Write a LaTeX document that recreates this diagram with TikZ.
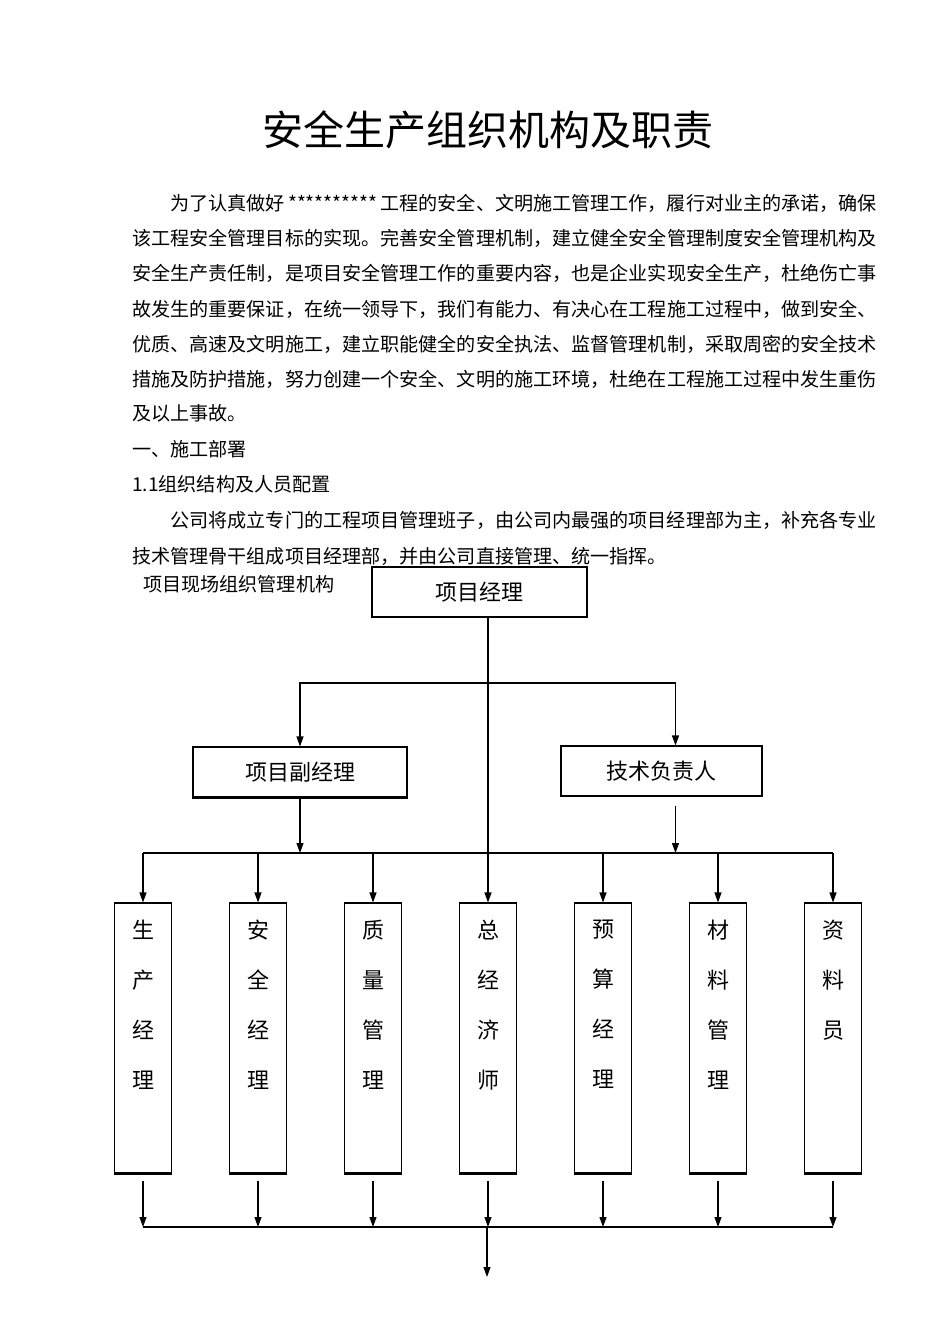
\documentclass[tikz,border=0pt]{standalone}
\usepackage{fontspec}
\setmainfont{Noto Sans CJK SC}
\usetikzlibrary{arrows.meta,positioning}

\tikzset{
  bodytext/.style={anchor=base west, inner sep=0pt, font=\fontsize{19.1}{23}\selectfont},
  chartbox/.style={draw, line width=1.1pt, inner sep=0pt, minimum height=50pt, font=\fontsize{22}{26}\selectfont},
  staffbox/.style={draw, line width=1.1pt, minimum width=57pt, minimum height=270pt, inner sep=0pt},
  stafftext/.style={anchor=north, inner sep=0pt, align=center, font=\fontsize{22}{50}\selectfont},
  link/.style={line width=1.1pt},
  arr/.style={line width=1.1pt, -{Triangle[length=10pt,width=7pt]}},
}

\begin{document}
\begin{tikzpicture}[x=1pt, y=-1pt]
	%%%%% START %%%%%
	\useasboundingbox (0,0) rectangle (950,1344);
	
	\node[font=\fontsize{41}{48}\selectfont] (title) at (488,130) {安全生产组织机构及职责};
	
	\node[bodytext] (p1) at (132,210) {\hspace*{2em}为了认真做好\makebox[5em]{**********}工程的安全、文明施工管理工作，履行对业主的承诺，确保};
	\node[bodytext] (p2) at (132,245) {该工程安全管理目标的实现。完善安全管理机制，建立健全安全管理制度安全管理机构及};
	\node[bodytext] (p3) at (132,280) {安全生产责任制，是项目安全管理工作的重要内容，也是企业实现安全生产，杜绝伤亡事};
	\node[bodytext] (p4) at (132,316) {故发生的重要保证，在统一领导下，我们有能力、有决心在工程施工过程中，做到安全、};
	\node[bodytext] (p5) at (132,351) {优质、高速及文明施工，建立职能健全的安全执法、监督管理机制，采取周密的安全技术};
	\node[bodytext] (p6) at (132,386) {措施及防护措施，努力创建一个安全、文明的施工环境，杜绝在工程施工过程中发生重伤};
	\node[bodytext] (p7) at (132,420) {及以上事故。};
	\node[bodytext] (sec1) at (132,456) {一、施工部署};
	\node[bodytext] (sec11) at (132,491) {1.1组织结构及人员配置};
	\node[bodytext] (p8) at (132,527) {\hspace*{2em}公司将成立专门的工程项目管理班子，由公司内最强的项目经理部为主，补充各专业};
	\node[bodytext] (p9) at (132,563) {技术管理骨干组成项目经理部，并由公司直接管理、统一指挥。};
	\node[bodytext] (cap) at (143,591) {项目现场组织管理机构};
	
	% boxes
	\node[chartbox, minimum width=215pt] (pm) at (479.5,592) {项目经理};
	\node[chartbox, minimum width=214pt] (fm) at (300,772) {项目副经理};
	\node[chartbox, minimum width=201pt] (js) at (661.5,771) {技术负责人};
	\draw[line width=2.4pt] (fm.south west) -- (fm.south east);
	
	\foreach \i/\t in {1/{生\\产\\经\\理},2/{安\\全\\经\\理},3/{质\\量\\管\\理},4/{总\\经\\济\\师},5/{预\\算\\经\\理},6/{材\\料\\管\\理},7/{资\\料\\员}} {
		\node[staffbox] (g\i) at ({28+115*\i},1038) {};
		\node[stafftext, below=17pt of g\i.north] (t\i) {\t};
		\draw[line width=2.4pt] (g\i.south west) -- (g\i.south east);
	}
	
	% lines
	\coordinate (topbar) at (487,683);
	\coordinate (lowbar) at (487,853);
	\coordinate (botbar) at (487,1227);
	\coordinate (outlet) at (487,1277);
	\coordinate (jsn) at ([xshift=14pt]js.north);
	\coordinate (jss) at ([xshift=14pt,yshift=-9pt]js.south);
	
	\draw[arr] (pm.south -| g4) -- (g4.north);
	\draw[arr] (topbar) -| (fm.north);
	\draw[arr] (topbar) -| (jsn);
	\draw[arr] (fm.south) -- (fm.south |- lowbar);
	\draw[arr] (jss) -- (jss |- lowbar);
	
	\draw[link] (g1.north |- lowbar) -- (g7.north |- lowbar);
	\foreach \i in {1,2,3,5,6,7}
		\draw[arr] (g\i.north |- lowbar) -- (g\i.north);
	
	\foreach \i in {1,...,7}
		\draw[arr] ([yshift=-7pt]g\i.south) -- (g\i.south |- botbar);
	\draw[link] (g1.south |- botbar) -- (g7.south |- botbar);
	\draw[arr] (botbar) -- (outlet);
	
	%%%%% END %%%%%
\end{tikzpicture}
\end{document}
